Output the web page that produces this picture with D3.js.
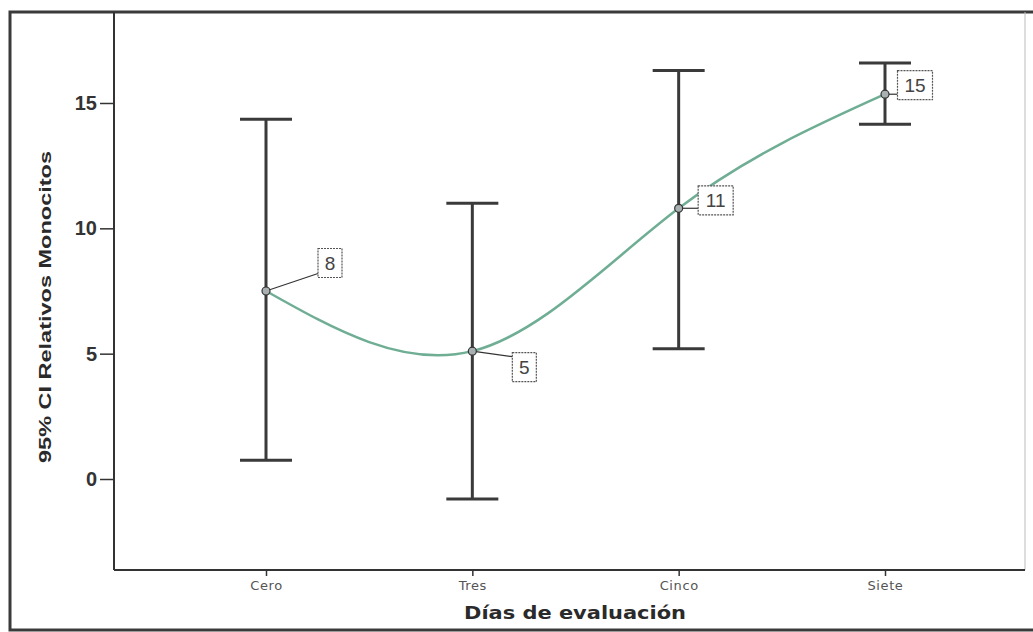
<!DOCTYPE html>
<html>
<head>
<meta charset="utf-8">
<script src="https://cdn.jsdelivr.net/npm/d3@7/dist/d3.min.js"></script>
<style>
  html, body { margin: 0; padding: 0; background: #fff; }
  svg { display: block; }
</style>
</head>
<body>
<svg id="chart" width="1033" height="632"></svg>
<script>
// ---- data ----
const categories = ["Cero", "Tres", "Cinco", "Siete"];
const means      = [7.5, 5.1, 10.8, 15.35];
const ciLower    = [0.75, -0.8, 5.2, 14.15];
const ciUpper    = [14.35, 11.0, 16.3, 16.6];
const pointLabels = ["8", "5", "11", "15"];
const yTicks = [0, 5, 10, 15];
const xTitle = "Días de evaluación";
const yTitle = "95% CI Relativos Monocitos";

// ---- layout ----
const W = 1033, H = 632;
const plot = { left: 114, top: 12, right: 1025, bottom: 570 };
// label box offsets relative to the point (px)
const labelOffsets = [[64, -28], [52, 16], [37, -8], [30, -9]];

const svg = d3.select("#chart");

const x = d3.scalePoint().domain(categories).range([266, 885]);
const y = d3.scaleLinear().domain([-3.63, 18.63]).range([plot.bottom, plot.top]);

// outer frame
svg.append("rect")
  .attr("x", 10).attr("y", 12).attr("width", 1040).attr("height", 618)
  .attr("fill", "none").attr("stroke", "#3a3a3a").attr("stroke-width", 3);

// plot area right edge (faint)
svg.append("line")
  .attr("x1", plot.right).attr("x2", plot.right)
  .attr("y1", plot.top).attr("y2", plot.bottom)
  .attr("stroke", "#bbb").attr("stroke-width", 1);

// y axis
const yAxis = svg.append("g")
  .attr("transform", `translate(${plot.left},0)`)
  .call(d3.axisLeft(y).tickValues(yTicks).tickSize(14).tickPadding(3).tickSizeOuter(0));
yAxis.select(".domain").remove();
yAxis.append("line")
  .attr("x1", 0).attr("x2", 0).attr("y1", plot.top).attr("y2", plot.bottom)
  .attr("stroke", "#333").attr("stroke-width", 2);
yAxis.selectAll(".tick line").attr("stroke", "#333").attr("stroke-width", 1.5);
yAxis.selectAll(".tick text")
  .attr("fill", "#333")
  .style("font-family", "'Liberation Sans', Arial, sans-serif")
  .style("font-weight", "bold")
  .style("font-size", "20px");

// x axis
const xAxis = svg.append("g")
  .attr("transform", `translate(0,${plot.bottom})`)
  .call(d3.axisBottom(x).tickSize(6).tickPadding(5).tickSizeOuter(0));
xAxis.select(".domain").remove();
xAxis.append("line")
  .attr("x1", plot.left).attr("x2", plot.right).attr("y1", 0).attr("y2", 0)
  .attr("stroke", "#333").attr("stroke-width", 2);
xAxis.selectAll(".tick line").attr("stroke", "#333").attr("stroke-width", 1.5);
xAxis.selectAll(".tick text")
  .attr("fill", "#555")
  .style("font-family", "'DejaVu Sans', Verdana, sans-serif")
  .style("font-size", "13px")
  .style("letter-spacing", "0.6px");

// axis titles
svg.append("text")
  .attr("x", 575).attr("y", 619)
  .attr("text-anchor", "middle")
  .attr("textLength", 222).attr("lengthAdjust", "spacingAndGlyphs")
  .attr("fill", "#2a2a2a")
  .style("font-family", "'DejaVu Sans', Verdana, sans-serif")
  .style("font-weight", "bold")
  .style("font-size", "17px")
  .text(xTitle);

svg.append("text")
  .attr("transform", "translate(51,307) rotate(-90)")
  .attr("text-anchor", "middle")
  .attr("textLength", 312).attr("lengthAdjust", "spacingAndGlyphs")
  .attr("fill", "#2a2a2a")
  .style("font-family", "'Liberation Sans Narrow', 'Liberation Sans', Arial, sans-serif")
  .style("font-weight", "bold")
  .style("font-size", "17px")
  .text(yTitle);

// error bars
const capHalf = 26;
const bars = svg.append("g");
categories.forEach((c, i) => {
  const cx = x(c);
  bars.append("line")
    .attr("x1", cx).attr("x2", cx).attr("y1", y(ciUpper[i])).attr("y2", y(ciLower[i]))
    .attr("stroke", "#3a3a3a").attr("stroke-width", 3);
  [ciUpper[i], ciLower[i]].forEach(v => {
    bars.append("line")
      .attr("x1", cx - capHalf).attr("x2", cx + capHalf).attr("y1", y(v)).attr("y2", y(v))
      .attr("stroke", "#3a3a3a").attr("stroke-width", 3);
  });
});

// mean curve
const pts = categories.map((c, i) => [x(c), y(means[i])]);
svg.append("path")
  .attr("d", d3.line().curve(d3.curveNatural)(pts))
  .attr("fill", "none")
  .attr("stroke", "#6fae94")
  .attr("stroke-width", 2.5);

// labels with connectors
categories.forEach((c, i) => {
  const [px, py] = pts[i];
  const [dx, dy] = labelOffsets[i];
  const bw = pointLabels[i].length > 1 ? 35 : 24;
  const bh = 29;
  const bx = px + dx - bw / 2, by = py + dy - bh / 2;
  const ty = Math.max(by + 4, Math.min(by + bh - 4, py));
  svg.append("line")
    .attr("x1", px).attr("y1", py).attr("x2", bx).attr("y2", ty)
    .attr("stroke", "#333").attr("stroke-width", 1.2);
  svg.append("rect")
    .attr("x", bx).attr("y", by).attr("width", bw).attr("height", bh)
    .attr("fill", "#fff").attr("stroke", "#555").attr("stroke-width", 1.2)
    .attr("stroke-dasharray", "2,1");
  svg.append("text")
    .attr("x", bx + bw / 2).attr("y", by + bh / 2 + 7)
    .attr("text-anchor", "middle")
    .attr("fill", "#444")
    .style("font-family", "'Liberation Sans', Arial, sans-serif")
    .style("font-size", "19px")
    .text(pointLabels[i]);
});

// point markers
svg.append("g").selectAll("circle").data(pts).join("circle")
  .attr("cx", d => d[0]).attr("cy", d => d[1]).attr("r", 4)
  .attr("fill", "#a8b0b2").attr("stroke", "#333").attr("stroke-width", 1.2);
</script>
</body>
</html>
